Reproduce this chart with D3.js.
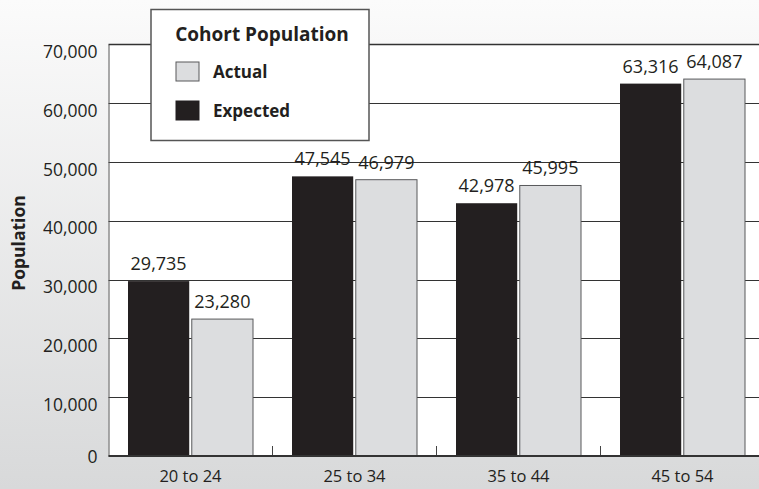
<!DOCTYPE html>
<html><head><meta charset="utf-8">
<script src="https://cdn.jsdelivr.net/npm/d3@7"></script>
<style>html,body{margin:0;padding:0;overflow:hidden;background:#fff}svg{display:block}</style>
</head><body>
<svg id="chart" width="759" height="489"></svg>
<script>
const categories = ["20 to 24", "25 to 34", "35 to 44", "45 to 54"];
const expected = [29735, 47545, 42978, 63316];
const actual = [23280, 46979, 45995, 64087];
const yTicks = [0, 10000, 20000, 30000, 40000, 50000, 60000, 70000];
const seriesNames = ["Expected", "Actual"];
const legendTitle = "Cohort Population";
const yTitle = "Population";

const W = 759, H = 489;
const m = {left: 108.5, right: 764.5, top: 44.3, bottom: 456};
const font = "'Open Sans', sans-serif";
const svg = d3.select("#chart");

const defs = svg.append("defs");
const grad = defs.append("linearGradient").attr("id", "bg").attr("x1", 0).attr("x2", 0).attr("y1", 0).attr("y2", 1);
grad.append("stop").attr("offset", "0%").attr("stop-color", "#fbfbfb");
grad.append("stop").attr("offset", "100%").attr("stop-color", "#d8d9da");
svg.append("rect").attr("width", W).attr("height", H).attr("fill", "url(#bg)");

const x0 = d3.scaleBand().domain(categories).range([m.left, m.right]).paddingInner(0).paddingOuter(0);
const x1 = d3.scaleBand().domain(seriesNames).range([19.5, x0.bandwidth() - 19.5]).paddingInner(5 / 125);
const y = d3.scaleLinear().domain([0, 70000]).range([m.bottom, m.top]);

// plot background
svg.append("rect").attr("x", m.left).attr("y", y(70000)).attr("width", m.right - m.left).attr("height", y(0) - y(70000)).attr("fill", "#fff");

// gridlines
const grid = svg.append("g");
grid.selectAll("line").data(yTicks.filter(d => d > 0)).join("line")
  .attr("x1", m.left).attr("x2", m.right)
  .attr("y1", d => Math.round(y(d)) + 0.5).attr("y2", d => Math.round(y(d)) + 0.5)
  .attr("stroke", "#333").attr("stroke-width", d => d === 70000 ? 1.6 : 1);

// y axis
const yAxis = d3.axisLeft(y).tickValues(yTicks).tickSize(0).tickPadding(11).tickFormat(d3.format(","));
const ya = svg.append("g").attr("transform", `translate(${m.left},0)`).call(yAxis);
ya.select(".domain").attr("stroke", "#555").attr("stroke-width", 1);
ya.selectAll("text").attr("font-family", font).attr("font-size", 17.5).attr("fill", "#231f20")
  .attr("dy", d => d === 0 ? "0.35em" : "0.75em");

// bars
const groups = svg.append("g").selectAll("g").data(categories).join("g")
  .attr("transform", d => `translate(${x0(d)},0)`);
const rows = categories.map((c, i) => [{s: "Expected", v: expected[i]}, {s: "Actual", v: actual[i]}]);
groups.selectAll("rect").data((d, i) => rows[i]).join("rect")
  .attr("x", d => x1(d.s)).attr("width", x1.bandwidth())
  .attr("y", d => y(d.v)).attr("height", d => y(0) - y(d.v))
  .attr("fill", d => d.s === "Expected" ? "#231f20" : "#dcdddf")
  .attr("stroke", d => d.s === "Expected" ? "none" : "#58595b").attr("stroke-width", 1);
groups.selectAll("text").data((d, i) => rows[i]).join("text")
  .attr("x", d => x1(d.s) + x1.bandwidth() / 2).attr("y", d => y(d.v) - 11)
  .attr("text-anchor", "middle").attr("font-family", font).attr("font-size", 18).attr("fill", "#231f20")
  .text(d => d3.format(",")(d.v));

// x axis
const xAxis = d3.axisBottom(x0).tickSize(0).tickPadding(14);
const xa = svg.append("g").attr("transform", `translate(0,${m.bottom})`).call(xAxis);
xa.select(".domain").remove();
xa.selectAll("text").attr("font-family", font).attr("font-size", 16.5).attr("fill", "#231f20");
svg.append("g").selectAll("line").data(categories.slice(1)).join("line")
  .attr("x1", d => x0(d)).attr("x2", d => x0(d)).attr("y1", m.bottom - 10).attr("y2", m.bottom)
  .attr("stroke", "#444").attr("stroke-width", 1);
svg.append("line").attr("x1", m.left).attr("x2", m.right).attr("y1", m.bottom).attr("y2", m.bottom)
  .attr("stroke", "#333").attr("stroke-width", 2);

// y title
svg.append("text").attr("transform", "translate(25,243) rotate(-90)").attr("text-anchor", "middle")
  .attr("font-family", font).attr("font-weight", 700).attr("font-size", 17.5).attr("fill", "#231f20").text(yTitle);

// legend
const lg = svg.append("g");
lg.append("rect").attr("x", 151).attr("y", 9.5).attr("width", 218).attr("height", 131)
  .attr("fill", "#fff").attr("stroke", "#555").attr("stroke-width", 1.5);
lg.append("text").attr("x", 262).attr("y", 41).attr("text-anchor", "middle")
  .attr("font-family", font).attr("font-weight", 700).attr("font-size", 19).attr("fill", "#231f20").text(legendTitle);
const legItems = [{s: "Actual", y: 62}, {s: "Expected", y: 101}];
legItems.forEach(it => {
  lg.append("rect").attr("x", 176).attr("y", it.y).attr("width", 23).attr("height", 19)
    .attr("fill", it.s === "Expected" ? "#231f20" : "#dcdddf")
    .attr("stroke", it.s === "Expected" ? "#231f20" : "#58595b").attr("stroke-width", 1);
  lg.append("text").attr("x", 213).attr("y", it.y + 16).attr("font-family", font).attr("font-weight", 700)
    .attr("font-size", 17).attr("fill", "#231f20").text(it.s);
});
</script>
</body></html>
